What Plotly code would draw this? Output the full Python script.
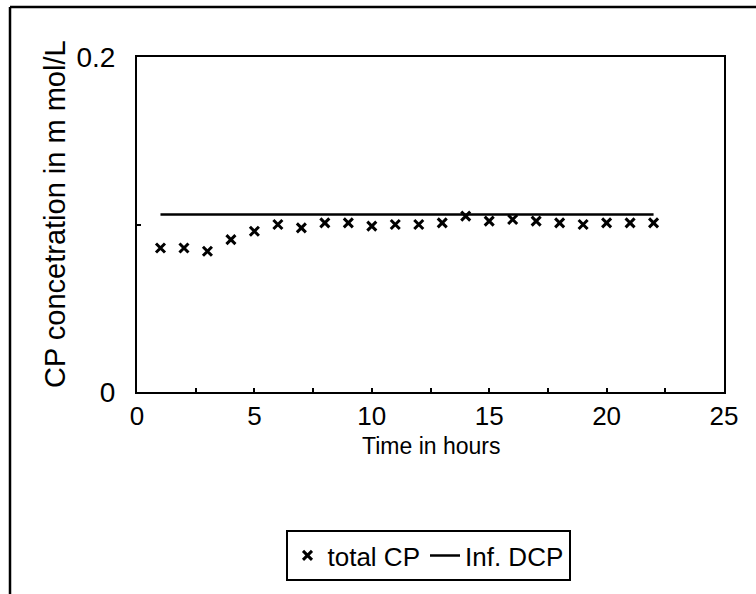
import plotly.graph_objects as go

# Hourly readings
hours = list(range(1, 23))
total_cp = [0.086, 0.086, 0.084, 0.091, 0.096, 0.100, 0.098, 0.101, 0.101, 0.099, 0.100,
            0.100, 0.101, 0.105, 0.102, 0.103, 0.102, 0.101, 0.100, 0.101, 0.101, 0.101]
inf_dcp = [0.106] * len(hours)

x_tick_vals = [0, 2.5, 5, 7.5, 10, 12.5, 15, 17.5, 20, 22.5, 25]
x_tick_text = ["0", "", "5", "", "10", "", "15", "", "20", "", "25"]
y_tick_vals = [0, 0.1, 0.2]
y_tick_text = ["0", "", "0.2"]

FONT = "Liberation Sans, Arial, sans-serif"
W, H = 756, 594
ML, MR, MT, MB = 137, 32, 57, 202
PW, PH = W - ML - MR, H - MT - MB


def px_x(p):
    return (p - ML) / PW


def px_y(p):
    return (H - MB - p) / PH


fig = go.Figure()
fig.add_trace(go.Scatter(
    x=hours, y=total_cp, mode="markers", name="total CP",
    marker=dict(symbol="x-thin", size=9, color="black",
                line=dict(width=3, color="black")),
))
fig.add_trace(go.Scatter(
    x=hours, y=inf_dcp, mode="lines", name="Inf. DCP",
    line=dict(color="black", width=2.5),
))

axis_common = dict(
    showline=True, linecolor="black", linewidth=2, mirror=True,
    showgrid=False, zeroline=False,
    ticks="inside", ticklen=4, tickwidth=1.5, tickcolor="black",
    tickmode="array",
)

fig.update_layout(
    width=W, height=H,
    margin=dict(l=ML, r=MR, t=MT, b=MB),
    paper_bgcolor="white", plot_bgcolor="white",
    font=dict(family=FONT, color="black"),
    xaxis=dict(range=[0, 25], tickvals=x_tick_vals, ticktext=x_tick_text,
               tickfont=dict(family=FONT, size=26, color="black"), **axis_common),
    yaxis=dict(range=[0, 0.2], tickvals=y_tick_vals, ticktext=y_tick_text,
               tickfont=dict(family=FONT, size=28, color="black"),
               ticklabelstandoff=14, **axis_common),
    showlegend=True,
    legend=dict(
        orientation="h", x=px_x(428), xanchor="center", y=px_y(530), yanchor="top",
        bordercolor="black", borderwidth=2, bgcolor="white",
        font=dict(family=FONT, size=26, color="black"),
        itemwidth=30, tracegroupgap=0,
    ),
    annotations=[
        dict(text="Time in hours", xref="paper", yref="paper",
             x=px_x(431), y=px_y(446), xanchor="center", yanchor="middle",
             showarrow=False, font=dict(family=FONT, size=23, color="black")),
        dict(text="CP concetration in m mol/L", xref="paper", yref="paper",
             x=px_x(55), y=px_y(214), xanchor="center", yanchor="middle", textangle=-90,
             showarrow=False, font=dict(family=FONT, size=29, color="black")),
    ],
    shapes=[
        dict(type="line", xref="paper", yref="paper",
             x0=px_x(10), x1=px_x(10), y0=px_y(7), y1=px_y(600),
             line=dict(color="black", width=2.5)),
        dict(type="line", xref="paper", yref="paper",
             x0=px_x(10), x1=px_x(760), y0=px_y(7), y1=px_y(7),
             line=dict(color="black", width=2.5)),
    ],
)

fig.write_html("out.html")
